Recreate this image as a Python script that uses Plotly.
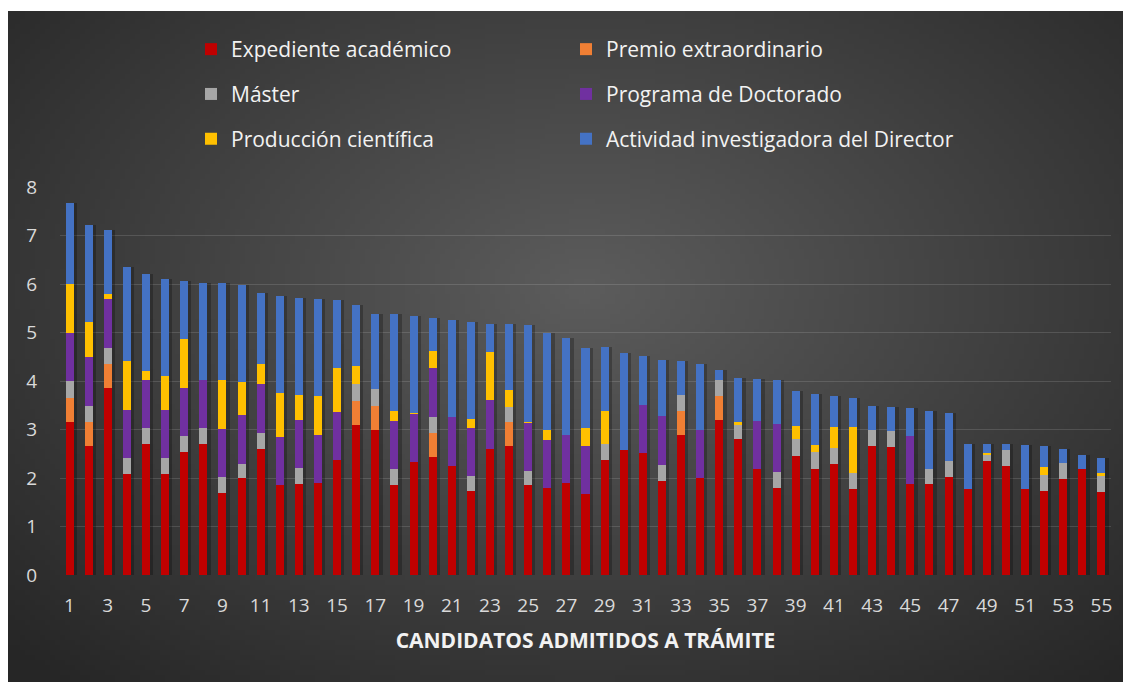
import base64
import struct
import zlib

import plotly.graph_objects as go

# ---------------- data ----------------
candidatos = list(range(1, 56))

expediente = [3.15, 2.66, 3.86, 2.08, 2.70, 2.08, 2.53, 2.70, 1.69, 2.00,
              2.60, 1.85, 1.87, 1.89, 2.37, 3.09, 2.99, 1.85, 2.33, 2.43,
              2.25, 1.73, 2.60, 2.66, 1.85, 1.79, 1.89, 1.67, 2.37, 2.58,
              2.51, 1.94, 2.89, 2.00, 3.20, 2.80, 2.18, 1.79, 2.45, 2.18,
              2.29, 1.77, 2.66, 2.64, 1.87, 1.87, 2.02, 1.77, 2.35, 2.25,
              1.77, 1.73, 1.98, 2.18, 1.71]
premio = [0.50, 0.50, 0.50, 0, 0, 0, 0, 0, 0, 0,
          0, 0, 0, 0, 0, 0.50, 0.50, 0, 0, 0.50,
          0, 0, 0, 0.50, 0, 0, 0, 0, 0, 0,
          0, 0, 0.50, 0, 0.50, 0, 0, 0, 0, 0,
          0, 0, 0, 0, 0, 0, 0, 0, 0, 0,
          0, 0, 0, 0, 0]
master = [0.35, 0.33, 0.33, 0.33, 0.33, 0.33, 0.33, 0.33, 0.33, 0.29,
          0.33, 0, 0.33, 0, 0, 0.35, 0.35, 0.33, 0, 0.33,
          0, 0.31, 0, 0.31, 0.29, 0, 0, 0, 0.33, 0,
          0, 0.33, 0.33, 0, 0.33, 0.31, 0, 0.33, 0.35, 0.35,
          0.33, 0.33, 0.33, 0.33, 0, 0.31, 0.33, 0, 0.14, 0.33,
          0, 0.33, 0.33, 0, 0.33]
doctorado = [1.00, 1.00, 1.00, 1.00, 1.00, 1.00, 1.00, 1.00, 1.00, 1.00,
             1.00, 1.00, 1.00, 1.00, 1.00, 0, 0, 1.00, 1.00, 1.00,
             1.00, 1.00, 1.00, 0, 1.00, 1.00, 1.00, 1.00, 0, 0,
             1.00, 1.00, 0, 1.00, 0, 0, 1.00, 1.00, 0, 0,
             0, 0, 0, 0, 1.00, 0, 0, 0, 0, 0,
             0, 0, 0, 0, 0]
produccion = [1.00, 0.72, 0.10, 1.00, 0.17, 0.70, 1.00, 0, 1.00, 0.68,
              0.43, 0.90, 0.51, 0.80, 0.89, 0.37, 0, 0.21, 0.02, 0.35,
              0, 0.17, 0.99, 0.35, 0.02, 0.19, 0, 0.37, 0.68, 0,
              0, 0, 0, 0, 0, 0.04, 0, 0, 0.27, 0.15,
              0.43, 0.95, 0, 0, 0, 0, 0, 0, 0.02, 0,
              0, 0.16, 0, 0, 0.06]
actividad = [1.68, 2.00, 1.32, 1.95, 2.00, 2.00, 1.20, 2.00, 2.00, 2.00,
             1.45, 2.00, 2.00, 2.00, 1.40, 1.26, 1.55, 2.00, 2.00, 0.68,
             2.00, 2.00, 0.58, 1.36, 2.00, 2.00, 2.00, 1.65, 1.32, 2.00,
             1.01, 1.16, 0.70, 1.36, 0.19, 0.91, 0.87, 0.91, 0.72, 1.05,
             0.64, 0.60, 0.50, 0.49, 0.58, 1.20, 0.99, 0.93, 0.19, 0.12,
             0.91, 0.44, 0.29, 0.29, 0.31]

series_names = ["Expediente académico", "Premio extraordinario", "Máster",
                "Programa de Doctorado", "Producción científica",
                "Actividad investigadora del Director"]
series_values = [expediente, premio, master, doctorado, produccion, actividad]
series_colors = ["#c00000", "#f07f34", "#a6a6a6", "#7030a0", "#ffc000", "#4472c4"]
series_legends = ["legend", "legend2", "legend", "legend2", "legend", "legend2"]

y_ticks = [0, 1, 2, 3, 4, 5, 6, 7, 8]
x_ticks = list(range(1, 56, 2))

# ---------------- geometry (figure coords; page adds an 8px body margin) ----------------
OFF = 8
W, H = 1131 - OFF, 682 - OFF
ML, MR, MT, MB = 52, 20, 179, 107
PW, PH = W - ML - MR, H - MT - MB


def px_x(p):
    """screen x of the reference -> paper x"""
    return (p - OFF - ML) / PW


def px_y(p):
    """screen y of the reference -> paper y"""
    return (H - MB - (p - OFF)) / PH


# ---------------- background gradient (PNG data URI) ----------------
def make_png(w, h, rows):
    raw = b"".join(b"\x00" + bytes(r) for r in rows)

    def chunk(t, d):
        return struct.pack(">I", len(d)) + t + d + struct.pack(">I", zlib.crc32(t + d) & 0xFFFFFFFF)

    return (b"\x89PNG\r\n\x1a\n"
            + chunk(b"IHDR", struct.pack(">IIBBBBB", w, h, 8, 2, 0, 0, 0))
            + chunk(b"IDAT", zlib.compress(raw, 9))
            + chunk(b"IEND", b""))


bx0, by0, bx1, by1 = OFF, 11, 1131, 682   # screen coords of the dark panel
gw, gh = 225, 134
cx, cy, rx, ry = 585.0, 290.0, 800.0, 520.0
c_in, c_out = 92, 38
rows = []
for j in range(gh):
    fy = by0 + (j + 0.5) / gh * (by1 - by0)
    row = []
    for i in range(gw):
        fx = bx0 + (i + 0.5) / gw * (bx1 - bx0)
        t = min(1.0, (((fx - cx) / rx) ** 2 + ((fy - cy) / ry) ** 2) ** 0.5)
        v = int(round(c_in + (c_out - c_in) * t))
        row.extend([v, v, v])
    rows.append(row)
bg_uri = "data:image/png;base64," + base64.b64encode(make_png(gw, gh, rows)).decode()

# ---------------- figure ----------------
fig = go.Figure()

totals = [sum(v) for v in zip(*series_values)]
# soft shadow behind each stacked bar (base axes, drawn below the real bars)
fig.add_trace(go.Bar(
    x=candidatos, y=totals, xaxis="x", yaxis="y",
    marker=dict(color="rgba(0,0,0,0.25)", line=dict(width=0)),
    width=0.5, offset=-0.12, showlegend=False, hoverinfo="skip",
))

for k, (name, vals, col, lg) in enumerate(zip(series_names, series_values, series_colors, series_legends)):
    fig.add_trace(go.Bar(
        name=name, x=candidatos, y=vals, xaxis="x", yaxis="y2",
        marker=dict(color=col, line=dict(width=0)),
        legend=lg, legendgroup="g%d" % k,
    ))

legend_common = dict(
    orientation="v", traceorder="grouped", tracegroupgap=14.5,
    bgcolor="rgba(0,0,0,0)", font=dict(family="Open Sans, sans-serif", size=21, color="#f2f2f2"),
    xanchor="left", yanchor="top", y=px_y(29),
)

fig.update_layout(
    width=W, height=H,
    margin=dict(l=ML, r=MR, t=MT, b=MB, autoexpand=False),
    paper_bgcolor="#ffffff",
    plot_bgcolor="rgba(0,0,0,0)",
    barmode="stack",
    bargap=0.58,
    font=dict(family="Open Sans, sans-serif", color="#d9d9d9"),
    legend=dict(legend_common, x=px_x(191)),
    legend2=dict(legend_common, x=px_x(566)),
    xaxis=dict(
        range=[0.5, 55.5], tickvals=x_ticks, ticktext=[str(v) for v in x_ticks],
        showgrid=False, zeroline=False, showline=False, ticks="",
        tickfont=dict(size=19, color="#d9d9d9"), ticklabelstandoff=17,
        title=dict(text="<b>CANDIDATOS ADMITIDOS A TRÁMITE</b>", standoff=16,
                   font=dict(size=21, color="#f2f2f2")),
    ),
    yaxis=dict(
        range=[0, 8], tickvals=y_ticks, ticktext=[str(v) for v in y_ticks],
        showgrid=True, gridcolor="rgba(255,255,255,0.13)", gridwidth=1.3,
        zeroline=False, showline=False, ticks="",
        tickfont=dict(size=19, color="#d9d9d9"), ticklabelstandoff=22,
    ),
    yaxis2=dict(
        range=[0, 8], overlaying="y", showgrid=False, zeroline=False,
        showticklabels=False, showline=False, ticks="",
    ),
    images=[dict(
        source=bg_uri, xref="paper", yref="paper",
        x=px_x(bx0), y=px_y(by0), sizex=(bx1 - bx0) / PW, sizey=(by1 - by0) / PH,
        xanchor="left", yanchor="top", sizing="stretch", layer="below",
    )],
)

fig.write_html("out.html")
